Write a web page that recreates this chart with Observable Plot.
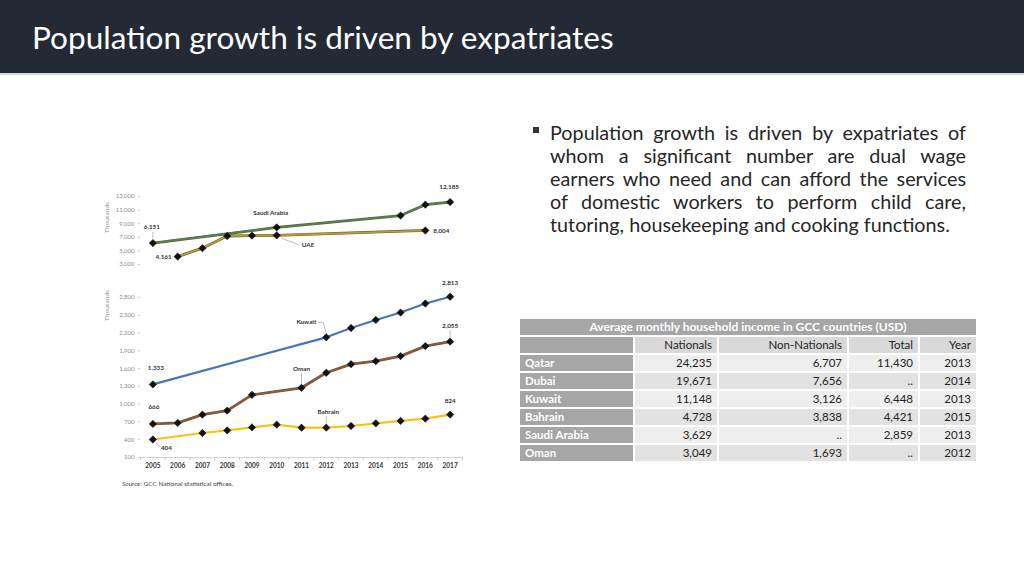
<!DOCTYPE html>
<html>
<head>
<meta charset="utf-8">
<script src="https://cdn.jsdelivr.net/npm/d3@7"></script>
<script src="https://cdn.jsdelivr.net/npm/@observablehq/plot@0.6"></script>
<style>
  html, body { margin: 0; padding: 0; }
  body { width: 1024px; height: 576px; position: relative; overflow: hidden; background: #ffffff; font-family: Lato, "Open Sans", sans-serif; }
  #header { position: absolute; left: 0; top: 0; width: 1024px; height: 75px; background: #242a35; border-bottom: 2px solid #d3d8e0; box-sizing: border-box; }
  #title { position: absolute; left: 32px; top: 18px; color: #ffffff; font-size: 29px; white-space: nowrap; font-weight: 400; }
  #bullet { position: absolute; left: 550px; top: 121px; width: 416px; color: #262626; font-size: 18px; line-height: 23px; }
  #bullet .ln { text-align: justify; text-align-last: justify; white-space: nowrap; }
  #bullet .ln.last { text-align-last: left; }
  #sq { position: absolute; left: 533px; top: 127px; width: 6px; height: 6px; background: #333; }
  #top { position: absolute; left: 95px; top: 180px; }
  #bottom { position: absolute; left: 95px; top: 282px; }
  #source { position: absolute; left: 122px; top: 480px; font-size: 6.5px; color: #444; white-space: nowrap; }
  #tbl { position: absolute; left: 518px; top: 317px; border-collapse: separate; border-spacing: 2px; table-layout: fixed; font-size: 11.5px; color: #222; }
  #tbl td { height: 16px; padding: 0 5px; line-height: 16px; white-space: nowrap; overflow: hidden; }
  #tbl .cap { background: #a6a6a6; color: #fff; font-weight: bold; text-align: center; font-size: 12px; }
  #tbl .rh { background: #a6a6a6; color: #fff; font-weight: bold; text-align: left; }
  #tbl .ch { background: #d9d9d9; text-align: right; }
  #tbl .num { text-align: right; }
  #tbl tr.odd .num { background: #eeeeee; }
  #tbl tr.even .num { background: #e2e2e2; }
</style>
</head>
<body>
<div id="header"><div id="title">Population growth is driven by expatriates</div></div>
<div id="sq"></div>
<div id="bullet">
  <div class="ln">Population growth is driven by expatriates of</div>
  <div class="ln">whom a significant number are dual wage</div>
  <div class="ln">earners who need and can afford the services</div>
  <div class="ln">of domestic workers to perform child care,</div>
  <div class="ln last">tutoring, housekeeping and cooking functions.</div>
</div>
<div id="top"></div>
<div id="bottom"></div>
<div id="source"><i>Source:</i> GCC National statistical offices.</div>
<table id="tbl"></table>
<script>
// ---------- data ----------
const years = [2005, 2006, 2007, 2008, 2009, 2010, 2011, 2012, 2013, 2014, 2015, 2016, 2017];

const saudiYears  = [2005, 2010, 2015, 2016, 2017];
const saudiValues = [6151, 8450, 10200, 11800, 12185];

const uaeYears  = [2006, 2007, 2008, 2009, 2010, 2016];
const uaeValues = [4161, 5400, 7190, 7245, 7290, 8004];

const kuwaitYears  = [2005, 2012, 2013, 2014, 2015, 2016, 2017];
const kuwaitValues = [1333, 2128, 2285, 2421, 2546, 2699, 2813];

const omanYears  = [2005, 2006, 2007, 2008, 2009, 2011, 2012, 2013, 2014, 2015, 2016, 2017];
const omanValues = [666, 683, 823, 891, 1157, 1276, 1530, 1675, 1726, 1811, 1980, 2055];

const bahrainYears  = [2005, 2007, 2008, 2009, 2010, 2011, 2012, 2013, 2014, 2015, 2016, 2017];
const bahrainValues = [404, 513, 557, 608, 654, 603, 603, 632, 676, 717, 756, 824];

const topTicks = [3000, 5000, 7000, 9000, 11000, 13000];
const bottomTicks = [100, 400, 700, 1000, 1300, 1600, 1900, 2200, 2500, 2800];

const topLabels = [
  {series: "Saudi Arabia", year: 2005, text: "6,151"},
  {series: "Saudi Arabia", year: 2010, text: "Saudi Arabia"},
  {series: "Saudi Arabia", year: 2017, text: "12,185"},
  {series: "UAE", year: 2006, text: "4,161"},
  {series: "UAE", year: 2010, text: "UAE"},
  {series: "UAE", year: 2016, text: "8,004"}
];
const bottomLabels = [
  {series: "Kuwait", year: 2005, text: "1,333"},
  {series: "Kuwait", year: 2012, text: "Kuwait"},
  {series: "Kuwait", year: 2017, text: "2,813"},
  {series: "Oman", year: 2005, text: "666"},
  {series: "Oman", year: 2011, text: "Oman"},
  {series: "Oman", year: 2017, text: "2,055"},
  {series: "Bahrain", year: 2005, text: "404"},
  {series: "Bahrain", year: 2012, text: "Bahrain"},
  {series: "Bahrain", year: 2017, text: "824"}
];

const tableTitle = "Average monthly household income in GCC countries (USD)";
const tableColumns = ["Nationals", "Non-Nationals", "Total", "Year"];
const tableCountries = ["Qatar", "Dubai", "Kuwait", "Bahrain", "Saudi Arabia", "Oman"];
const tableNationals = ["24,235", "19,671", "11,148", "4,728", "3,629", "3,049"];
const tableNonNationals = ["6,707", "7,656", "3,126", "3,838", "..", "1,693"];
const tableTotal = ["11,430", "..", "6,448", "4,421", "2,859", ".."];
const tableYear = ["2013", "2014", "2013", "2015", "2013", "2012"];

// ---------- styles ----------
const colors = {"Saudi Arabia": "#55853d", "UAE": "#c29e22", "Kuwait": "#4a75b8", "Oman": "#9a562a", "Bahrain": "#f7c31a"};
const outlined = {"Saudi Arabia": true, "UAE": true, "Oman": true, "Kuwait": false, "Bahrain": false};
// label placement in px relative to the data point: dx, dy, anchor, leader polyline
const placement = {
  "6,151": {dx: -1, dy: -16, anchor: "middle", leader: [[0, -5], [0, -11]]},
  "Saudi Arabia": {dx: -6, dy: -14, anchor: "middle"},
  "12,185": {dx: -1, dy: -15, anchor: "middle"},
  "4,161": {dx: -6, dy: 0, anchor: "end"},
  "UAE": {dx: 25, dy: 10, anchor: "start", leader: [[5, 3], [21, 9]]},
  "8,004": {dx: 8, dy: 0, anchor: "start"},
  "1,333": {dx: 3, dy: -16, anchor: "middle"},
  "Kuwait": {dx: -10, dy: -15, anchor: "end", leader: [[-8, -15], [-3, -15], [0, -4]]},
  "2,813": {dx: 0, dy: -14, anchor: "middle"},
  "666": {dx: 1, dy: -17, anchor: "middle"},
  "Oman": {dx: 0, dy: -19, anchor: "middle", leader: [[0, -14], [0, -4]]},
  "2,055": {dx: 0, dy: -16, anchor: "middle", leader: [[0, -11], [0, -4]]},
  "404": {dx: 8, dy: 8, anchor: "start", leader: [[3, 3], [7, 7]]},
  "Bahrain": {dx: 2, dy: -16, anchor: "middle", leader: [[0, -11], [0, -4]]},
  "824": {dx: 0, dy: -14, anchor: "middle"}
};

function toRows(name, ys, vs) { return ys.map((y, i) => ({series: name, year: y, value: vs[i]})); }

const topRows = [...toRows("Saudi Arabia", saudiYears, saudiValues), ...toRows("UAE", uaeYears, uaeValues)];
const bottomRows = [...toRows("Kuwait", kuwaitYears, kuwaitValues), ...toRows("Oman", omanYears, omanValues), ...toRows("Bahrain", bahrainYears, bahrainValues)];

function panel({rows, labels, yDomain, yTicks, height, marginTop, marginBottom, showX, thousandsDy}) {
  const width = 375, marginLeft = 45, marginRight = 8;
  const xDomain = [years[0] - 0.5, years[years.length - 1] + 0.5];
  const xs = d3.scaleLinear(xDomain, [marginLeft, width - marginRight]);
  const ys = d3.scaleLinear(yDomain, [height - marginBottom, marginTop]);
  const seriesNames = [...new Set(rows.map(d => d.series))];
  const lookup = (s, y) => rows.find(d => d.series === s && d.year === y);
  const labelData = labels.map(l => ({...l, value: lookup(l.series, l.year).value}));
  const leaders = labelData.filter(l => placement[l.text].leader).flatMap((l, k) =>
    placement[l.text].leader.map(([ox, oy]) => ({k, x: xs.invert(xs(l.year) + ox), y: ys.invert(ys(l.value) + oy)})));
  const halfYears = years.slice(0, -1).map(y => y + 0.5).concat([xDomain[0], xDomain[1]]);

  const marks = [
    Plot.axisY(yTicks, {tickSize: 2, tickPadding: 4, tickFormat: d3.format(","), fill: "#8a8a8a", stroke: "#cfcfcf", fontSize: 6, label: null}),
    Plot.text(["Thousands"], {frameAnchor: "top-left", rotate: -90, dx: -36, dy: thousandsDy, fill: "#9a9a9a", fontSize: 6.5, textAnchor: "middle"})
  ];
  if (showX) {
    marks.push(
      Plot.ruleY([yDomain[0]], {stroke: "#c8c8c8", strokeWidth: 0.8}),
      Plot.axisX(halfYears, {tickSize: 3, tickFormat: () => "", stroke: "#c8c8c8", label: null}),
      Plot.axisX(years, {tickSize: 0, tickPadding: 6, tickFormat: d => String(d), fill: "#333", fontWeight: "bold", fontSize: 6.5, label: null})
    );
  }
  for (const s of seriesNames) {
    const data = rows.filter(d => d.series === s);
    if (outlined[s]) marks.push(Plot.line(data, {x: "year", y: "value", stroke: "#2a2a22", strokeWidth: 2.8, strokeOpacity: 0.75}));
    marks.push(Plot.line(data, {x: "year", y: "value", stroke: colors[s], strokeWidth: outlined[s] ? 1.6 : 2.2}));
  }
  marks.push(
    Plot.line(leaders, {x: "x", y: "y", z: "k", stroke: "#a0a0a0", strokeWidth: 0.7}),
    Plot.dot(rows, {x: "year", y: "value", symbol: "diamond2", r: 3.3, fill: "#111", stroke: "#111", strokeWidth: 0.6})
  );
  for (const l of labelData) {
    const p = placement[l.text];
    marks.push(Plot.text([l], {x: "year", y: "value", text: "text", dx: p.dx, dy: p.dy, textAnchor: p.anchor, fill: "#333", fontWeight: "bold", fontSize: 6.3}));
  }
  return Plot.plot({
    width, height, marginLeft, marginRight, marginTop, marginBottom,
    x: {domain: xDomain, axis: null},
    y: {domain: yDomain, axis: null},
    style: {fontFamily: "Lato, 'Open Sans', sans-serif", fontSize: "6px", background: "transparent", overflow: "visible"},
    marks
  });
}

document.getElementById("top").append(panel({
  rows: topRows, labels: topLabels, yDomain: [3000, 13000], yTicks: topTicks,
  height: 95, marginTop: 16, marginBottom: 11, showX: false, thousandsDy: 21
}));
document.getElementById("bottom").append(panel({
  rows: bottomRows, labels: bottomLabels, yDomain: [100, 2800], yTicks: bottomTicks,
  height: 195, marginTop: 15, marginBottom: 20, showX: true, thousandsDy: 8
}));

// ---------- table ----------
const tbl = document.getElementById("tbl");
const widths = [113, 82, 128, 69, 56];
const cg = document.createElement("colgroup");
widths.forEach(w => { const c = document.createElement("col"); c.style.width = w + "px"; cg.append(c); });
tbl.append(cg);
function addRow(cells, cls) {
  const tr = document.createElement("tr");
  if (cls) tr.className = cls;
  cells.forEach(([txt, c, span]) => { const td = document.createElement("td"); td.textContent = txt; td.className = c; if (span) td.colSpan = span; tr.append(td); });
  tbl.append(tr);
}
addRow([[tableTitle, "cap", 5]]);
addRow([["", "rh"], ...tableColumns.map(c => [c, "ch"])]);
tableCountries.forEach((c, i) => addRow([[c, "rh"], [tableNationals[i], "num"], [tableNonNationals[i], "num"], [tableTotal[i], "num"], [tableYear[i], "num"]], i % 2 ? "even" : "odd"));

// ---------- fit text widths ----------
function fit(el, target) {
  const span = document.createElement("span");
  span.textContent = el.textContent; span.style.font = getComputedStyle(el).font; span.style.whiteSpace = "nowrap";
  span.style.position = "absolute"; span.style.visibility = "hidden";
  document.body.append(span);
  const w = span.getBoundingClientRect().width; span.remove();
  const fs = parseFloat(getComputedStyle(el).fontSize);
  return fs * target / w;
}
const title = document.getElementById("title");
title.style.fontSize = fit(title, 582) + "px";
const lines = document.querySelectorAll("#bullet .ln");
const last = lines[lines.length - 1];
document.getElementById("bullet").style.fontSize = fit(last, 400) + "px";
</script>
</body>
</html>
